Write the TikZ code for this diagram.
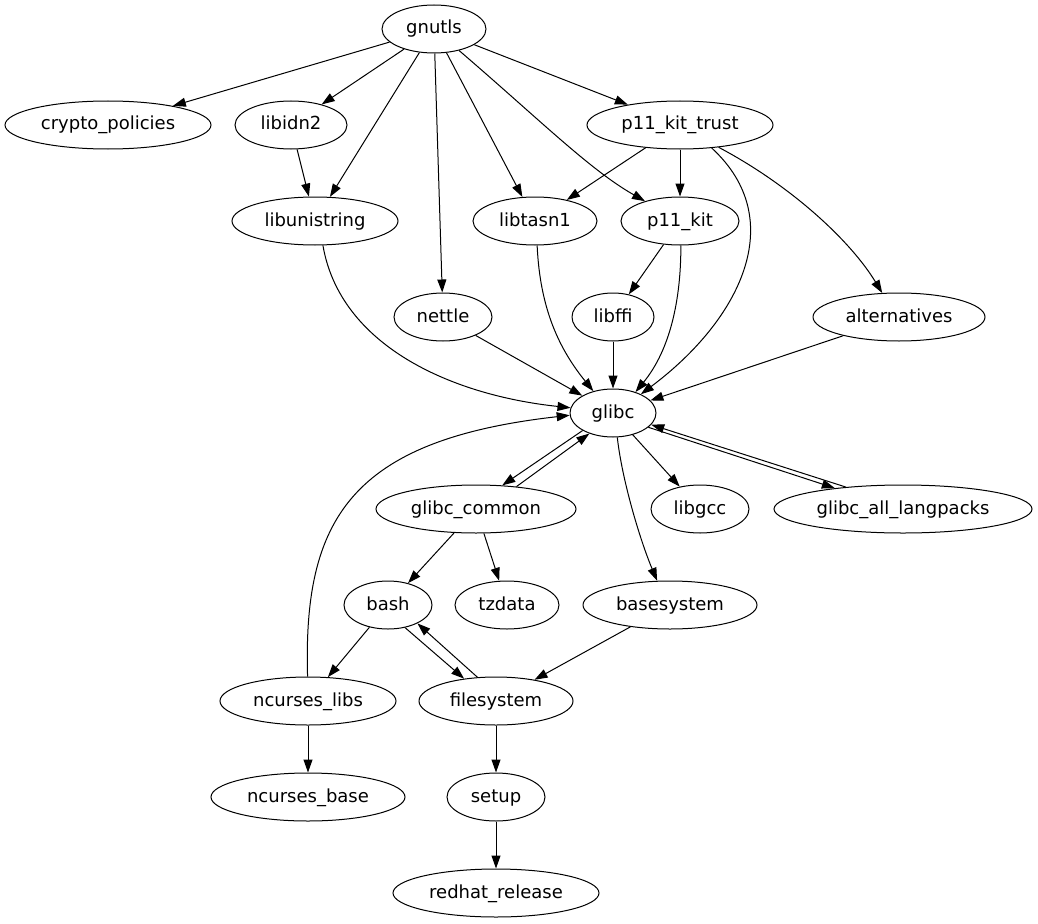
\documentclass[tikz,border=0pt]{standalone}
\usepackage{fontspec}
\setmainfont{DejaVu Sans}
\usetikzlibrary{shapes.geometric,arrows.meta}
\begin{document}
\begin{tikzpicture}[x=1pt,y=-1pt,
  pkg/.style={draw,ellipse,inner sep=0pt,minimum height=48pt,line width=1pt,
    font=\fontsize{18}{20}\selectfont,text height=13pt,text depth=3pt},
  dep/.style={-{Triangle[length=13pt,width=9pt]},line width=1pt}]
\useasboundingbox (0,0) rectangle (1038,923);
\node[pkg,minimum width=104pt] (gnutls) at (434,29) {gnutls};
\node[pkg,minimum width=206pt] (cryptopolicies) at (108,125) {crypto\_policies};
\node[pkg,minimum width=112pt] (libidn2) at (291,125) {libidn2};
\node[pkg,minimum width=186pt] (p11kittrust) at (680,125) {p11\_kit\_trust};
\node[pkg,minimum width=166pt] (libunistring) at (315,221) {libunistring};
\node[pkg,minimum width=124pt] (libtasn1) at (535,221) {libtasn1};
\node[pkg,minimum width=118pt] (p11kit) at (680,221) {p11\_kit};
\node[pkg,minimum width=98pt] (nettle) at (443,317) {nettle};
\node[pkg,minimum width=82pt] (libffi) at (613,317) {libffi};
\node[pkg,minimum width=172pt] (alternatives) at (899,317) {alternatives};
\node[pkg,minimum width=86pt] (glibc) at (613,413) {glibc};
\node[pkg,minimum width=200pt] (glibccommon) at (476,509) {glibc\_common};
\node[pkg,minimum width=98pt] (libgcc) at (700,509) {libgcc};
\node[pkg,minimum width=258pt] (glibcall) at (903,509) {glibc\_all\_langpacks};
\node[pkg,minimum width=88pt] (bash) at (388,605) {bash};
\node[pkg,minimum width=104pt] (tzdata) at (507,605) {tzdata};
\node[pkg,minimum width=174pt] (basesystem) at (670,605) {basesystem};
\node[pkg,minimum width=176pt] (ncurseslibs) at (308,701) {ncurses\_libs};
\node[pkg,minimum width=154pt] (filesystem) at (496,701) {filesystem};
\node[pkg,minimum width=194pt] (ncursesbase) at (308,797) {ncurses\_base};
\node[pkg,minimum width=98pt] (setup) at (496,797) {setup};
\node[pkg,minimum width=206pt] (redhatrelease) at (496,893) {redhat\_release};

\draw[dep] (gnutls) -- (cryptopolicies);
\draw[dep] (gnutls) -- (libidn2);
\draw[dep] (gnutls) -- (libunistring);
\draw[dep] (gnutls) -- (nettle);
\draw[dep] (gnutls) -- (libtasn1);
\draw[dep] (gnutls) -- (p11kittrust);
\draw[dep] (gnutls) .. controls (540,120) and (590,170) .. (p11kit);
\draw[dep] (libidn2) -- (libunistring);
\draw[dep] (p11kittrust) -- (libtasn1);
\draw[dep] (p11kittrust) -- (p11kit);
\draw[dep] (p11kittrust.-36) .. controls (790,220) and (740,320) .. (glibc.34);
\draw[dep] (p11kittrust.-30) .. controls (790,185) and (850,240) .. (alternatives.125);
\draw[dep] (libunistring.-72) .. controls (340,345) and (450,395) .. (glibc.173);
\draw[dep] (libtasn1.-85) .. controls (540,310) and (560,350) .. (glibc.132);
\draw[dep] (p11kit.-88) .. controls (681,300) and (670,350) .. (glibc.43);
\draw[dep] (p11kit) -- (libffi);
\draw[dep] (nettle) -- (glibc);
\draw[dep] (libffi) -- (glibc);
\draw[dep] (alternatives) -- (glibc);
\draw[dep] (glibc.210) -- (glibccommon.42);
\draw[dep] (glibccommon.29) -- (glibc.221);
\draw[dep] (glibc) -- (libgcc);
\draw[dep] (glibc.-22) -- (glibcall.163);
\draw[dep] (glibcall.159) -- (glibc.-17);
\draw[dep] (glibc.-80) .. controls (622,480) and (640,540) .. (basesystem.118);
\draw[dep] (glibccommon) -- (bash);
\draw[dep] (glibccommon) -- (tzdata);
\draw[dep] (basesystem) -- (filesystem);
\draw[dep] (bash) -- (ncurseslibs);
\draw[dep] (bash.-53) -- (filesystem.145);
\draw[dep] (filesystem.128) -- (bash.-32);
\draw[dep] (ncurseslibs.91) .. controls (303,520) and (350,440) .. (glibc.183);
\draw[dep] (ncurseslibs) -- (ncursesbase);
\draw[dep] (filesystem) -- (setup);
\draw[dep] (setup) -- (redhatrelease);
\end{tikzpicture}
\end{document}
